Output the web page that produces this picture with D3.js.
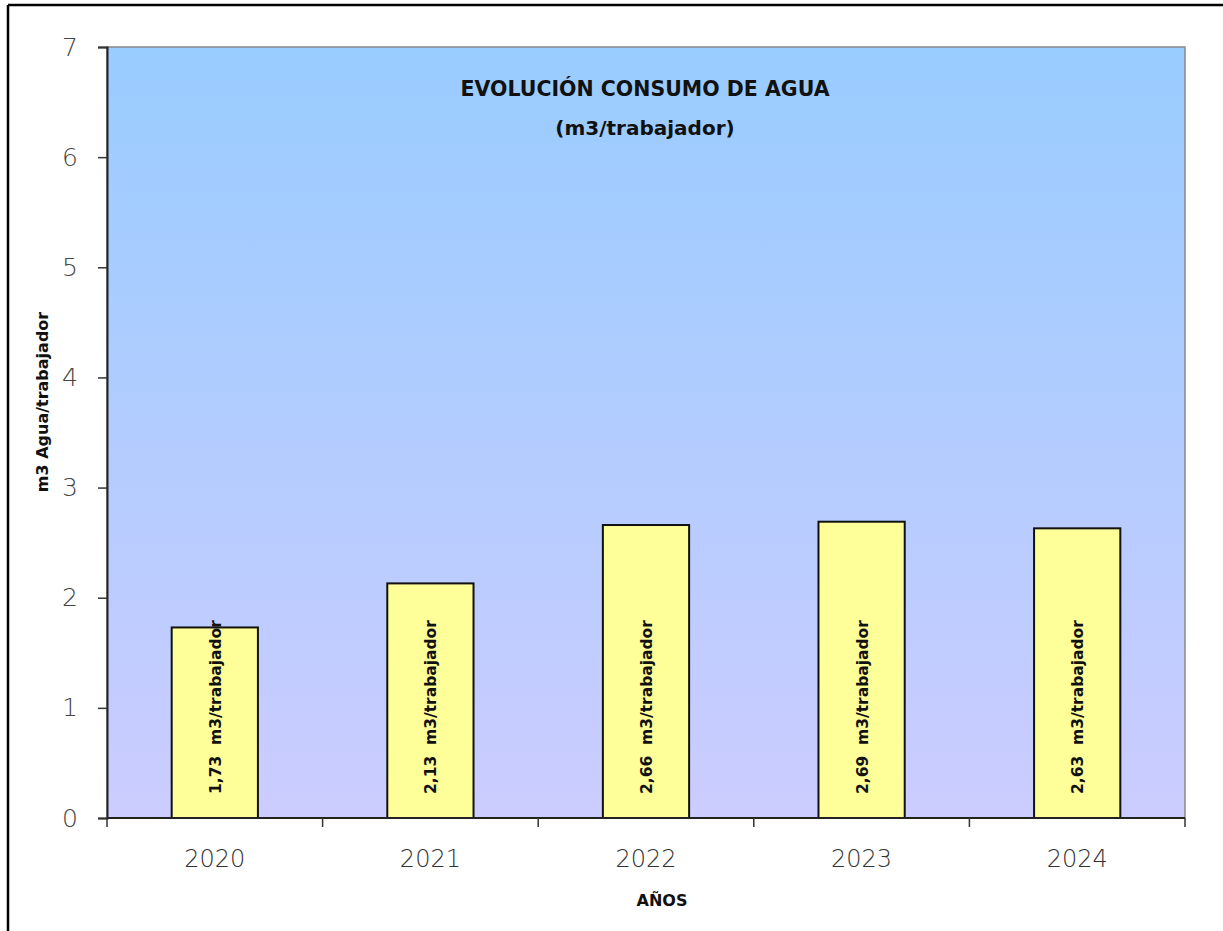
<!DOCTYPE html>
<html>
<head>
<meta charset="utf-8">
<script src="https://cdn.jsdelivr.net/npm/d3@7"></script>
<style>
  body { margin: 0; background: #fff; }
  svg text { font-family: "DejaVu Sans", sans-serif; }
</style>
</head>
<body>
<svg id="chart" width="1223" height="931"></svg>
<script>
// data
var years = ["2020", "2021", "2022", "2023", "2024"];
var consumo = [1.73, 2.13, 2.66, 2.69, 2.63];
var yTicks = [0, 1, 2, 3, 4, 5, 6, 7];

var svg = d3.select("#chart");
var margin = {left: 107, right: 38, top: 47, bottom: 113};
var W = 1223, H = 931;

var x = d3.scaleBand().domain(years).range([margin.left, W - margin.right]).paddingInner(0.6).paddingOuter(0.3);
var y = d3.scaleLinear().domain([0, 7]).range([H - margin.bottom, margin.top]);

// frame (only top + left show in the original)
svg.append("line").attr("x1", 8).attr("x2", W).attr("y1", 5).attr("y2", 5).style("stroke", "#000").style("stroke-width", 2.5);
svg.append("line").attr("x1", 8).attr("x2", 8).attr("y1", 5).attr("y2", H).style("stroke", "#000").style("stroke-width", 2.5);

var defs = svg.append("defs");
var grad = defs.append("linearGradient").attr("id", "bg").attr("x1", 0).attr("y1", 0).attr("x2", 0).attr("y2", 1);
grad.append("stop").attr("offset", "0%").attr("stop-color", "#99ccff");
grad.append("stop").attr("offset", "100%").attr("stop-color", "#ccccff");

svg.append("rect")
  .attr("x", margin.left).attr("y", margin.top)
  .attr("width", W - margin.right - margin.left)
  .attr("height", H - margin.bottom - margin.top)
  .style("fill", "url(#bg)")
  .style("stroke", "#888").style("stroke-width", 1.5);

// bars
svg.selectAll("rect.bar")
  .data(consumo)
  .enter().append("rect")
  .attr("class", "bar")
  .attr("x", function(d, i) { return x(years[i]); })
  .attr("y", function(d) { return y(d); })
  .attr("width", x.bandwidth())
  .attr("height", function(d) { return y(0) - y(d); })
  .style("fill", "#ffff99")
  .style("stroke", "#111")
  .style("stroke-width", 2);

// bar labels, rotated
svg.selectAll("text.lab")
  .data(consumo)
  .enter().append("text")
  .attr("class", "lab")
  .attr("transform", function(d, i) {
    return "translate(" + (x(years[i]) + x.bandwidth() / 2 + 6) + "," + (y(0) - 24) + ") rotate(-90)";
  })
  .style("font-size", "15.5px").style("font-weight", "bold").style("fill", "#111")
  .text(function(d) { return d.toFixed(2).replace(".", ",") + "  m3/trabajador"; })
  .attr("xml:space", "preserve");

// y axis
var yAxis = svg.append("g")
  .attr("transform", "translate(" + margin.left + ",0)")
  .call(d3.axisLeft(y).tickValues(yTicks).tickFormat(d3.format("d")).tickSize(9).tickPadding(20));
yAxis.select(".domain").style("stroke", "#222").style("stroke-width", 2);
yAxis.selectAll(".tick line").style("stroke", "#333").style("stroke-width", 1.5);
yAxis.selectAll("text").style("font-family", "'DejaVu Sans', sans-serif").style("font-weight", "200")
  .style("font-size", "25px").style("fill", "#444");

// x axis with ticks between categories
var xAxis = svg.append("g").attr("transform", "translate(0," + y(0) + ")");
xAxis.append("line").attr("x1", margin.left).attr("x2", W - margin.right).style("stroke", "#222").style("stroke-width", 2);
var xb = d3.scaleLinear().domain([0, years.length]).range([margin.left, W - margin.right]);
xAxis.selectAll("line.tk")
  .data(d3.range(years.length + 1))
  .enter().append("line")
  .attr("class", "tk")
  .attr("x1", function(d) { return xb(d); }).attr("x2", function(d) { return xb(d); })
  .attr("y1", 0).attr("y2", 9)
  .style("stroke", "#333").style("stroke-width", 1.5);
xAxis.selectAll("text")
  .data(years)
  .enter().append("text")
  .attr("x", function(d) { return x(d) + x.bandwidth() / 2; })
  .attr("y", 49)
  .attr("text-anchor", "middle")
  .style("font-family", "'DejaVu Sans', sans-serif").style("font-weight", "200")
  .style("font-size", "24px").style("fill", "#333")
  .text(function(d) { return d; });

// titles
svg.append("text").attr("x", 645).attr("y", 96).attr("text-anchor", "middle")
  .style("font-size", "20.5px").style("font-weight", "bold").style("fill", "#111")
  .text("EVOLUCIÓN CONSUMO DE AGUA");
svg.append("text").attr("x", 645).attr("y", 135).attr("text-anchor", "middle")
  .style("font-size", "20px").style("font-weight", "bold").style("fill", "#111")
  .text("(m3/trabajador)");
svg.append("text").attr("x", 662).attr("y", 906).attr("text-anchor", "middle")
  .style("font-size", "16px").style("font-weight", "bold").style("fill", "#111")
  .text("AÑOS");
svg.append("text").attr("transform", "translate(48,402) rotate(-90)").attr("text-anchor", "middle")
  .style("font-size", "16px").style("font-weight", "bold").style("fill", "#111")
  .text("m3 Agua/trabajador");
</script>
</body>
</html>
